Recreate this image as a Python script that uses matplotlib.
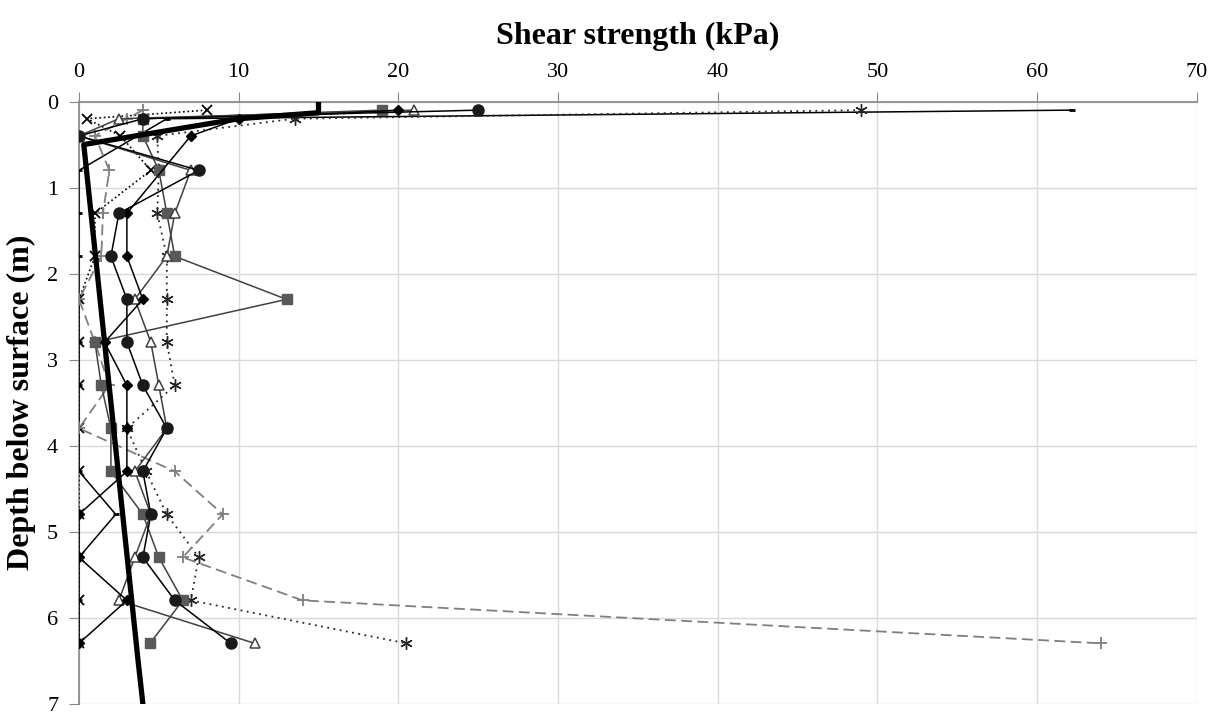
import matplotlib
matplotlib.use("Agg")
import matplotlib.pyplot as plt

plt.rcParams['font.family'] = ['Liberation Serif', 'DejaVu Serif']

# depths (m)
d_full = [0.1, 0.2, 0.4, 0.8, 1.3, 1.8, 2.3, 2.8, 3.3, 3.8, 4.3, 4.8, 5.3, 5.8, 6.3]

# shear strength (kPa) per test profile
circle_x = [25, 4, 0, 7.5, 2.5, 2, 3, 3, 4, 5.5, 4, 4.5, 4, 6, 9.5]
circle_y = d_full

diamond_x = [20, 10, 7, 3, 3, 4, 1.6, 3, 3, 3, 0, 0, 3, 0]
diamond_y = [0.1, 0.2, 0.4, 1.3, 1.8, 2.3, 2.8, 3.3, 3.8, 4.3, 4.8, 5.3, 5.8, 6.3]

square_x = [19, 4, 4, 5, 5.5, 6, 13, 1, 1.4, 2, 2, 4, 5, 6.5, 4.45]
square_y = d_full

triangle_x = [21, 2.5, 0, 7, 6, 5.5, 3.5, 4.5, 5, 5.5, 3.5, 4.5, 3.5, 2.5, 11]
triangle_y = d_full

plus_x = [4, 3, 1, 1.9, 1.5, 1.4, 0, 1, 1.9, 0, 6, 9, 6.5, 14, 64]
plus_y = d_full

xmark_x = [8, 0.5, 2.6, 4.5, 1, 1, 0, 0, 0, 0, 0, 0, 0, 0, 0]
xmark_y = d_full

star_x = [49, 13.5, 4.9, 5, 4.9, 5.5, 5.5, 5.5, 6, 3, 4.2, 5.5, 7.5, 7, 20.5]
star_y = d_full

dash_x = [62.2, 5.5, 0, 0, 0, 0, 0, 0, 0, 0, 2.3, 0, 0, 0]
dash_y = [0.1, 0.2, 0.8, 1.3, 1.8, 2.3, 2.8, 3.3, 3.8, 4.3, 4.8, 5.3, 5.8, 6.3]

# design line
design_x = [15, 15, 10, 0.3, 3.7, 4]
design_y = [0, 0.13, 0.2, 0.5, 6.5, 7]

fig = plt.figure(figsize=(12.15, 7.15), dpi=100)
ax = fig.add_axes([0.065, 0.016, 0.92, 0.842])

ax.plot(dash_x, dash_y, color='black', lw=1.1, marker='_', ms=5, mew=2, zorder=3)
ax.plot(xmark_x, xmark_y, color='black', lw=1.2, ls=':', marker='x', ms=7, mew=1.3, zorder=3)
ax.plot(star_x, star_y, color='#262626', lw=1.3, ls=(0, (1, 2.5)), marker=(6, 2, 0), ms=9, mew=1.0, zorder=3)
ax.plot(plus_x, plus_y, color='#7f7f7f', lw=1.3, ls=(0, (6, 3)), marker='+', ms=9, mew=1.3, zorder=3)
ax.plot(square_x, square_y, color='#404040', lw=1.1, marker='s', ms=7, mfc='#595959', mec='#595959', zorder=4)
ax.plot(triangle_x, triangle_y, color='#404040', lw=1.1, marker='^', ms=7.5, mfc='white', mec='#404040', mew=1.1, zorder=4)
ax.plot(diamond_x, diamond_y, color='black', lw=1.1, marker='D', ms=5.5, mfc='black', zorder=5)
ax.plot(circle_x, circle_y, color='black', lw=1.1, marker='o', ms=8, mfc='#1a1a1a', mec='#1a1a1a', zorder=5)
ax.plot(design_x, design_y, color='black', lw=3.8, zorder=6, solid_capstyle='round')

ax.set_xlim(0, 70)
ax.set_ylim(7, 0)
ax.set_xticks(range(0, 71, 10))
ax.set_yticks(range(0, 8))
ax.xaxis.tick_top()
ax.xaxis.set_label_position('top')
ax.grid(True, color='#d9d9d9', lw=1.0, zorder=0)
ax.set_axisbelow(True)

for side in ['right', 'bottom']:
    ax.spines[side].set_visible(False)
for side in ['left', 'top']:
    ax.spines[side].set_color('#868686')
    ax.spines[side].set_linewidth(1.2)

ax.tick_params(axis='x', direction='out', length=7, color='#868686', labelsize=16, pad=7)
ax.tick_params(axis='y', direction='out', length=7, color='#868686', labelsize=16, pad=8)

ax.set_xlabel('Shear strength (kPa)', fontsize=23, fontweight='bold', labelpad=14)
ax.set_ylabel('Depth below surface (m)', fontsize=23, fontweight='bold', labelpad=8)

fig.savefig('out.png', dpi=100)
